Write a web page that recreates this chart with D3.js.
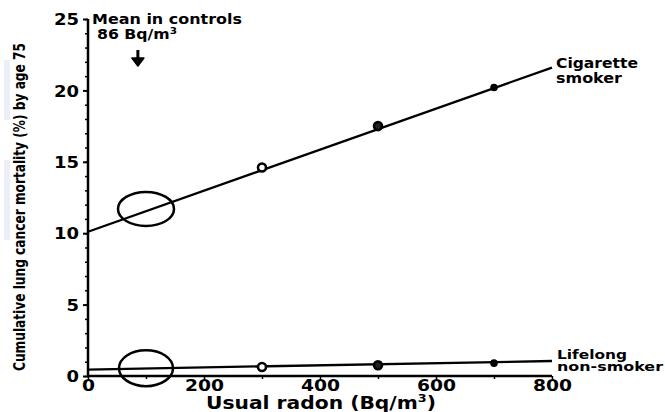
<!DOCTYPE html>
<html>
<head>
<meta charset="utf-8">
<script src="https://cdn.jsdelivr.net/npm/d3@7"></script>
<style>
 body { margin: 0; background: #fff; }
 text { font-family: "DejaVu Sans", sans-serif; font-weight: bold; }
</style>
</head>
<body>
<div id="chart"></div>
<script>
// fitted lines (radon in Bq/m3 -> cumulative risk %)
var lineX = [0, 800];
var smokerY = [10.1, 21.6];
var nonSmokerY = [0.45, 1.05];

// marked points along each line
var pointX = [300, 500, 700];
var smokerPts = [14.6, 17.5, 20.2];
var nonSmokerPts = [0.63, 0.75, 0.9];

// circled region at mean in controls
var meanX = 100;
var smokerCircleY = 11.7;
var nonSmokerCircleY = 0.55;

var xTicks = [0, 200, 400, 600, 800];
var yTicks = [0, 5, 10, 15, 20, 25];

var width = 665, height = 412;
var margin = {left: 88, right: 113, top: 19, bottom: 36};

var svg = d3.select('#chart').append('svg')
 .attr('width', width).attr('height', height);

// faint background watermark
svg.append('rect').attr('x', 4).attr('y', 60).attr('width', 6).attr('height', 60).style('fill', '#eeeef8');
svg.append('rect').attr('x', 4).attr('y', 160).attr('width', 6).attr('height', 80).style('fill', '#eeeef8');

var x = d3.scaleLinear().domain([0, 800]).range([margin.left, width - margin.right]);
var y = d3.scaleLinear().domain([0, 25]).range([height - margin.bottom, margin.top]);

// stretch text to the wide look of the original lettering
function widen(sel, perChar)
{
 sel.attr('textLength', function(){ return this.textContent.length * perChar; })
  .attr('lengthAdjust', 'spacingAndGlyphs');
}

// y axis with minor ticks
var yAxis = svg.append('g').attr('transform', 'translate(' + margin.left + ',0)')
 .call(d3.axisLeft(y).tickValues(d3.range(0, 26, 1)).tickSize(3).tickFormat(''));
yAxis.selectAll('.tick line').style('stroke-width', 1.5);
yAxis.select('.domain').remove();
var yMajor = svg.append('g').attr('transform', 'translate(' + margin.left + ',0)')
 .call(d3.axisLeft(y).tickValues(yTicks).tickSize(5).tickPadding(4));
yMajor.select('.domain').remove();
yMajor.selectAll('.tick line').style('stroke-width', 2);
yMajor.selectAll('text').style('font-family', '"DejaVu Sans", sans-serif').style('font-size', '16px')
 .style('font-weight', 'bold').attr('dy', '0.36em').call(widen, 12.5);
svg.append('line').attr('x1', x(0)).attr('x2', x(0)).attr('y1', y(25)).attr('y2', y(0) + 1)
 .style('stroke', '#000').style('stroke-width', 2.5);

// x axis
var xAxis = svg.append('g').attr('transform', 'translate(0,' + y(0) + ')')
 .call(d3.axisBottom(x).tickValues(d3.range(0, 801, 100)).tickSize(3).tickFormat(''));
xAxis.select('.domain').remove();
xAxis.selectAll('.tick line').style('stroke-width', 1.5);
var xMajor = svg.append('g').attr('transform', 'translate(0,' + y(0) + ')')
 .call(d3.axisBottom(x).tickValues(xTicks).tickSize(3).tickPadding(1));
xMajor.select('.domain').remove();
xMajor.selectAll('text').style('font-family', '"DejaVu Sans", sans-serif').style('font-size', '16px')
 .style('font-weight', 'bold').call(widen, 13);
svg.append('line').attr('x1', x(0) - 1).attr('x2', x(800)).attr('y1', y(0)).attr('y2', y(0))
 .style('stroke', '#000').style('stroke-width', 2.5);

// axis titles
svg.append('text').attr('x', 321).attr('y', 409).attr('text-anchor', 'middle')
 .attr('textLength', 230).attr('lengthAdjust', 'spacingAndGlyphs')
 .style('font-size', '17.5px')
 .html('Usual radon (Bq/m<tspan dy="-7" font-size="11px">3</tspan><tspan dy="7">)</tspan>');
svg.append('text').attr('transform', 'translate(25,' + 207 + ') rotate(-90)')
 .attr('text-anchor', 'middle').attr('textLength', 328).attr('lengthAdjust', 'spacingAndGlyphs')
 .style('font-family', '"DejaVu Sans Condensed", "DejaVu Sans", sans-serif').style('font-stretch', 'condensed')
 .style('font-size', '16px').style('font-weight', 'bold')
 .text('Cumulative lung cancer mortality (%) by age 75');

// lines
var line = d3.line().x(function(d){ return x(d[0]); }).y(function(d){ return y(d[1]); });
svg.append('path').datum(d3.zip(lineX, smokerY)).attr('d', line)
 .style('fill', 'none').style('stroke', '#000').style('stroke-width', 2.3);
svg.append('path').datum(d3.zip(lineX, nonSmokerY)).attr('d', line)
 .style('fill', 'none').style('stroke', '#000').style('stroke-width', 2.3);

// point markers
var radii = [4, 4, 2.5];
var fills = ['#fff', '#222', '#000'];
[smokerPts, nonSmokerPts].forEach(function(vals){
 svg.selectAll(null).data(d3.zip(pointX, vals, radii, fills)).enter().append('circle')
  .attr('cx', function(d){ return x(d[0]); })
  .attr('cy', function(d){ return y(d[1]); })
  .attr('r', function(d){ return d[2]; })
  .style('fill', function(d){ return d[3]; })
  .style('stroke', '#000').style('stroke-width', 2.6);
});

// ellipses around mean
svg.append('ellipse').attr('cx', x(meanX)).attr('cy', y(smokerCircleY)).attr('rx', 28).attr('ry', 17)
 .style('fill', 'none').style('stroke', '#000').style('stroke-width', 2.5);
svg.append('ellipse').attr('cx', x(meanX)).attr('cy', y(nonSmokerCircleY)).attr('rx', 27).attr('ry', 18)
 .style('fill', 'none').style('stroke', '#000').style('stroke-width', 2.5);

// mean annotation
svg.append('text').attr('x', 92).attr('y', 24).style('font-size', '13.5px')
 .attr('textLength', 150).attr('lengthAdjust', 'spacingAndGlyphs')
 .text('Mean in controls');
svg.append('text').attr('x', 97).attr('y', 39).style('font-size', '13.5px')
 .attr('textLength', 80).attr('lengthAdjust', 'spacingAndGlyphs')
 .html('86 Bq/m<tspan dy="-5" font-size="9px">3</tspan>');
var ax = x(86);
svg.append('line').attr('x1', ax).attr('x2', ax).attr('y1', 50).attr('y2', 62)
 .style('stroke', '#000').style('stroke-width', 3);
svg.append('path').attr('d', 'M' + (ax - 6) + ',58 L' + (ax + 6) + ',58 L' + ax + ',66 Z')
 .style('fill', '#000').style('stroke', '#000').style('stroke-width', 1.5).style('stroke-linejoin', 'round');

// line labels
var labels = [
 {t: 'Cigarette', x: 556, y: 68, w: 82},
 {t: 'smoker', x: 556, y: 83, w: 66},
 {t: 'Lifelong', x: 557, y: 359, w: 70},
 {t: 'non-smoker', x: 557, y: 371, w: 106}
];
svg.selectAll(null).data(labels).enter().append('text')
 .attr('x', function(d){ return d.x; }).attr('y', function(d){ return d.y; })
 .attr('textLength', function(d){ return d.w; }).attr('lengthAdjust', 'spacingAndGlyphs')
 .style('font-size', function(d, i){ return i < 2 ? '13.5px' : '12.5px'; })
 .text(function(d){ return d.t; });
</script>
</body>
</html>
